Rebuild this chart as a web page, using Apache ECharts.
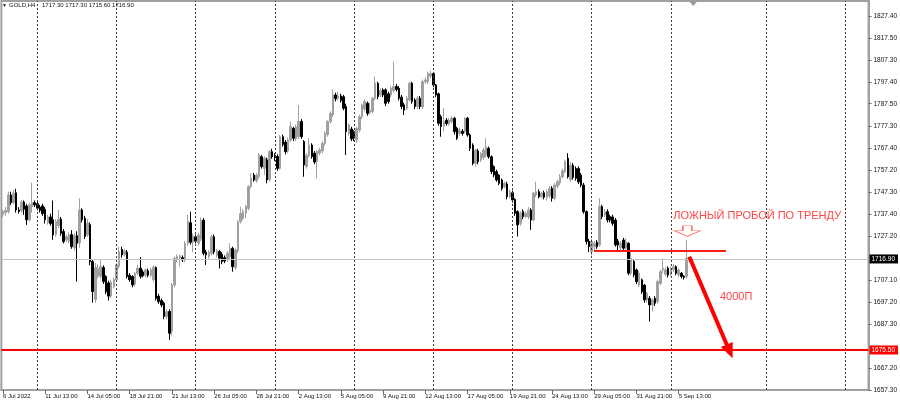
<!DOCTYPE html>
<html><head><meta charset="utf-8">
<script src="https://cdn.jsdelivr.net/npm/echarts@6/dist/echarts.min.js"></script>
<style>html,body{margin:0;padding:0;background:#fff}#c{width:900px;height:407px}</style>
</head><body><div id="c"></div>
<script>
const symbolName = 'GOLD,H4';

const opens = [
1737.0,1738.0,1738.5,1746.0,1742.5,1747.0,1739.2,1738.9,1742.8,1741.0,
1734.7,1740.6,1742.5,1742.0,1740.5,1741.0,1739.5,1733.5,1736.0,1734.7,
1728.0,1732.0,1735.0,1729.4,1725.5,1725.0,1728.0,1722.0,1727.5,1724.2,
1739.2,1735.4,1727.8,1732.5,1715.7,1698.5,1709.0,1709.0,1713.0,1708.9,
1706.0,1700.0,1704.3,1707.4,1713.5,1721.3,1719.0,1720.0,1709.5,1708.9,
1705.5,1710.4,1712.7,1711.0,1709.5,1711.5,1709.5,1707.5,1713.0,1700.0,
1698.0,1696.8,1690.6,1693.0,1684.0,1705.0,1716.5,1717.5,1717.5,1716.5,
1724.0,1733.4,1724.5,1727.0,1724.0,1726.0,1734.5,1720.0,1718.0,1719.5,
1727.0,1718.5,1720.3,1719.0,1717.5,1716.5,1718.0,1721.7,1713.0,1720.5,
1733.9,1735.3,1737.7,1739.9,1749.8,1755.0,1752.5,1754.3,1763.4,1758.1,
1762.0,1753.0,1765.7,1764.0,1763.5,1758.1,1772.5,1770.0,1766.0,1771.0,
1776.3,1771.5,1772.5,1779.4,1770.3,1759.0,1764.0,1768.7,1765.0,1761.2,
1765.0,1766.0,1769.5,1773.5,1779.4,1782.4,1791.5,1790.0,1791.0,1790.7,
1786.2,1774.0,1776.0,1774.8,1771.0,1775.5,1781.6,1785.0,1787.7,1783.5,
1784.0,1790.0,1796.8,1791.5,1793.8,1793.8,1792.0,1791.5,1793.5,1795.3,
1794.5,1790.5,1787.0,1785.4,1789.2,1796.8,1789.2,1786.2,1790.0,1786.0,
1797.5,1797.5,1800.0,1801.3,1796.0,1792.0,1781.6,1777.5,1780.0,1778.5,
1779.4,1780.9,1776.3,1774.0,1775.0,1774.8,1780.9,1773.3,1768.7,1760.4,
1766.0,1762.0,1763.0,1764.2,1767.2,1763.4,1758.9,1756.6,1755.0,1752.8,
1749.8,1751.0,1745.2,1747.0,1744.0,1738.5,1733.1,1738.5,1736.2,1736.0,
1739.2,1734.6,1746.0,1747.5,1745.2,1747.0,1745.0,1745.5,1749.0,1744.5,
1750.0,1751.5,1754.3,1756.6,1762.7,1753.0,1759.5,1758.0,1758.0,1755.0,
1750.5,1738.4,1725.0,1720.2,1722.5,1724.5,1723.3,1740.7,1737.0,1738.4,
1736.2,1736.0,1734.6,1725.0,1722.0,1725.5,1721.8,1724.0,1710.4,1715.7,
1711.9,1705.0,1707.4,1705.0,1698.3,1699.0,1696.0,1699.0,1697.5,1705.8,
1711.9,1710.0,1712.7,1710.0,1712.0,1713.4,1709.6,1710.4,1709.0,1709.0,
1717.3
];
const closes = [
1738.4,1739.0,1746.0,1742.5,1746.8,1739.2,1738.5,1742.8,1739.5,1734.7,
1741.5,1742.5,1741.5,1740.0,1739.0,1737.5,1734.7,1736.0,1733.0,1727.8,
1733.9,1735.0,1728.6,1724.8,1727.0,1727.8,1722.5,1727.5,1724.0,1739.2,
1734.7,1727.1,1733.2,1715.7,1702.1,1713.0,1712.5,1713.5,1706.6,1702.0,
1700.0,1706.4,1707.5,1714.2,1720.3,1718.7,1720.5,1708.9,1707.4,1705.1,
1710.4,1712.7,1709.0,1709.3,1711.9,1709.5,1712.0,1713.1,1699.0,1697.5,
1696.0,1690.7,1693.0,1683.1,1705.1,1717.2,1718.0,1718.3,1716.5,1724.0,
1733.9,1724.5,1727.0,1725.0,1727.8,1734.5,1719.5,1718.8,1720.0,1727.0,
1720.2,1720.5,1717.2,1715.7,1716.0,1719.5,1721.7,1713.4,1721.0,1733.9,
1737.6,1738.4,1740.7,1749.8,1753.6,1752.8,1755.0,1764.2,1758.9,1762.7,
1752.8,1765.7,1763.4,1763.0,1758.1,1772.5,1769.0,1765.7,1771.0,1777.1,
1771.8,1777.0,1779.4,1772.5,1759.6,1764.0,1768.7,1763.4,1761.0,1765.7,
1766.5,1769.5,1774.0,1779.4,1783.1,1791.5,1789.8,1791.0,1789.0,1785.4,
1774.8,1777.8,1771.5,1771.8,1776.3,1781.6,1786.9,1788.5,1783.1,1784.5,
1790.0,1796.8,1790.7,1793.5,1791.5,1787.7,1788.5,1794.5,1795.3,1794.0,
1790.0,1786.2,1784.6,1790.0,1796.8,1788.5,1786.2,1790.0,1786.2,1797.5,
1798.3,1801.3,1801.3,1796.0,1791.5,1778.6,1777.1,1779.4,1778.5,1780.0,
1780.9,1774.8,1771.8,1775.5,1774.0,1780.9,1773.3,1767.2,1760.4,1766.5,
1761.2,1764.8,1766.5,1767.9,1763.4,1756.6,1755.1,1752.8,1751.3,1749.0,
1751.3,1745.2,1747.5,1743.7,1737.7,1732.4,1737.7,1736.2,1737.7,1739.2,
1734.6,1746.8,1747.5,1745.2,1746.8,1745.0,1747.5,1749.0,1744.5,1750.5,
1752.0,1754.3,1757.0,1761.2,1754.3,1759.5,1754.0,1753.6,1752.0,1750.5,
1738.4,1724.8,1722.5,1724.8,1724.0,1722.5,1740.7,1736.2,1738.4,1734.6,
1734.6,1733.1,1723.3,1723.3,1724.0,1721.8,1724.8,1710.4,1717.2,1709.6,
1706.6,1710.4,1702.0,1698.3,1701.3,1696.0,1698.3,1696.8,1706.6,1711.1,
1712.7,1712.0,1709.6,1712.7,1713.4,1710.4,1711.9,1708.9,1708.5,1717.2,
1716.9
];
const lows = [
1735.8,1736.5,1737.5,1741.5,1741.8,1738.0,1737.5,1738.0,1737.0,1732.4,
1734.0,1738.0,1740.5,1739.0,1738.0,1736.5,1733.0,1732.5,1732.0,1725.6,
1727.0,1731.0,1727.5,1724.0,1724.5,1724.0,1721.5,1720.5,1706.6,1722.0,
1733.5,1726.0,1727.0,1714.0,1697.0,1697.0,1708.0,1708.0,1705.5,1701.0,
1698.0,1699.0,1703.5,1706.5,1712.5,1717.5,1718.0,1708.0,1706.5,1704.0,
1704.5,1709.5,1708.0,1708.5,1708.5,1708.5,1708.5,1706.5,1698.0,1696.5,
1695.0,1689.5,1689.5,1680.1,1682.0,1704.0,1715.5,1713.5,1715.5,1715.5,
1723.0,1723.5,1720.0,1724.0,1723.0,1725.0,1718.5,1714.2,1717.0,1718.5,
1719.0,1717.5,1712.6,1714.5,1715.0,1715.5,1717.0,1711.1,1712.0,1719.5,
1733.0,1734.5,1735.5,1739.0,1749.0,1752.0,1751.5,1753.5,1758.0,1755.0,
1751.3,1752.0,1762.5,1761.5,1757.0,1757.5,1768.0,1764.5,1765.0,1770.0,
1770.5,1770.5,1771.5,1771.5,1754.3,1758.0,1763.0,1762.5,1760.0,1753.6,
1764.0,1765.0,1768.5,1772.5,1778.5,1781.5,1788.5,1789.0,1788.0,1784.5,
1764.2,1773.0,1770.5,1770.5,1769.5,1774.5,1780.5,1784.0,1782.0,1782.5,
1783.0,1789.0,1789.5,1790.5,1790.5,1786.5,1787.5,1790.5,1792.5,1793.0,
1789.0,1785.0,1782.4,1784.5,1788.5,1787.5,1785.0,1785.0,1785.0,1785.0,
1796.5,1796.5,1799.0,1795.0,1790.5,1777.5,1772.5,1775.0,1777.5,1777.5,
1778.5,1773.5,1771.0,1773.0,1773.0,1774.0,1772.5,1766.0,1759.5,1758.9,
1760.0,1761.0,1762.0,1763.0,1762.5,1755.5,1754.0,1752.0,1750.5,1748.0,
1749.0,1744.0,1744.5,1742.5,1736.5,1727.1,1732.0,1735.0,1735.5,1735.0,
1730.1,1734.0,1745.0,1744.5,1744.5,1744.0,1743.5,1744.5,1743.0,1743.5,
1749.0,1750.5,1753.5,1756.0,1753.5,1752.0,1753.0,1752.5,1751.0,1749.5,
1737.5,1723.5,1720.0,1718.5,1721.0,1721.5,1722.5,1735.0,1736.0,1733.5,
1733.5,1732.0,1722.5,1721.0,1721.0,1721.0,1720.5,1709.5,1709.5,1708.5,
1705.5,1704.0,1701.0,1697.0,1697.0,1688.4,1693.0,1695.5,1696.5,1705.0,
1710.5,1709.0,1708.5,1709.0,1711.0,1709.5,1708.5,1708.0,1707.5,1708.0,
1715.6
];
const highs = [
1739.5,1740.5,1747.5,1747.5,1748.3,1748.8,1740.5,1743.6,1743.5,1742.0,
1742.5,1751.6,1743.5,1743.0,1741.5,1742.0,1740.5,1737.0,1737.5,1743.5,
1735.0,1739.2,1736.0,1730.5,1728.0,1729.0,1730.0,1728.5,1729.5,1744.5,
1740.0,1736.5,1735.0,1733.5,1716.5,1715.0,1714.5,1716.5,1714.0,1709.5,
1707.0,1707.5,1708.5,1715.0,1722.5,1722.5,1721.5,1721.0,1710.5,1709.5,
1711.0,1714.2,1717.7,1712.0,1712.5,1712.5,1713.0,1714.0,1713.5,1701.0,
1699.0,1697.5,1694.0,1694.0,1706.0,1718.0,1719.0,1719.0,1718.5,1725.0,
1736.9,1738.4,1728.5,1728.0,1729.0,1735.8,1735.5,1721.0,1721.0,1727.8,
1728.0,1721.5,1721.0,1720.0,1718.5,1720.5,1724.0,1722.5,1722.0,1734.5,
1740.7,1739.5,1741.5,1750.5,1755.9,1756.0,1756.0,1765.0,1764.2,1763.5,
1763.0,1766.5,1767.0,1765.0,1764.5,1773.3,1773.5,1771.0,1772.0,1779.4,
1777.0,1778.0,1786.9,1780.5,1771.0,1765.0,1771.8,1769.5,1766.0,1766.5,
1767.5,1770.5,1775.0,1780.0,1784.0,1794.0,1792.5,1793.0,1792.0,1791.5,
1787.5,1778.5,1777.0,1775.5,1777.0,1782.5,1787.5,1789.5,1788.5,1788.0,
1790.5,1799.8,1797.5,1794.5,1794.5,1794.5,1793.0,1795.5,1806.6,1796.5,
1795.5,1791.5,1788.0,1791.0,1797.5,1797.5,1790.0,1791.0,1791.0,1798.5,
1799.5,1802.0,1802.5,1802.0,1796.5,1792.5,1782.5,1785.5,1781.0,1781.0,
1782.0,1781.5,1777.0,1776.5,1776.0,1781.3,1781.5,1774.0,1769.5,1767.0,
1767.0,1765.5,1767.5,1771.8,1768.0,1764.0,1759.5,1757.5,1755.5,1753.5,
1752.0,1752.0,1748.5,1748.0,1744.5,1739.0,1738.5,1739.5,1738.5,1740.5,
1740.0,1747.5,1752.0,1748.5,1747.5,1748.0,1748.5,1750.0,1750.0,1751.5,
1753.0,1755.5,1758.0,1762.0,1765.0,1761.0,1760.5,1759.0,1759.0,1756.0,
1751.5,1739.0,1726.0,1726.0,1725.0,1725.5,1744.5,1741.5,1739.5,1739.5,
1737.0,1737.0,1735.5,1726.0,1725.0,1726.5,1726.3,1724.5,1720.3,1716.5,
1712.5,1711.5,1708.0,1705.5,1702.0,1700.0,1699.0,1700.0,1707.5,1712.0,
1717.2,1713.0,1713.5,1713.5,1714.5,1714.0,1712.5,1711.0,1709.5,1725.5,
1717.3
];

// time axis tick labels (bar index -> text)
const timeTickBars = [0,16,32,48,64,80,96,112,128,144,160,176,192,208,224,240,256];
const timeTickLabels = ['6 Jul 2022','11 Jul 13:00','14 Jul 05:00','18 Jul 21:00','21 Jul 13:00',
  '26 Jul 05:00','28 Jul 21:00','2 Aug 13:00','5 Aug 05:00','9 Aug 21:00','12 Aug 13:00',
  '17 Aug 05:00','19 Aug 21:00','24 Aug 13:00','29 Aug 05:00','31 Aug 21:00','5 Sep 13:00'];
// price axis tick labels
const priceTicks = [1657.3,1667.2,1687.3,1697.2,1707.1,1727.2,1737.4,1747.3,1757.2,1767.4,
  1777.3,1787.5,1797.4,1807.3,1817.5,1827.4];
// weekly separators (bar index)
const weekGridBars = [13,43,73,103,133,163,193,223,253,289,319];

const currentPrice = 1716.90;
const targetLevel = 1675.50;
const breakoutLevel = 1720.5;
const breakoutSpan = [223.9, 273.9];
const arrowStart = [260.0, 1717.9];
const arrowEnd = [275.3, 1674.85];
const noteText = 'ЛОЖНЫЙ ПРОБОЙ ПО ТРЕНДУ';
const notePos = [253.9, 1736.34];
const pointsText = '4000П';
const pointsPos = [271.6, 1699.46];
const hintArrowPos = [259.26, 1729.6];

const FONT = '"Liberation Sans", Arial, sans-serif';
const last = opens.length - 1;
const candleData = opens.map((o, i) => [i, o, closes[i], lows[i], highs[i]]);

const chart = echarts.init(document.getElementById('c'), null, {renderer: 'canvas'});
chart.setOption({
  animation: false,
  backgroundColor: '#ffffff',
  grid: {left: -2, right: 26, top: 1, bottom: 17, show: true, borderColor: '#a0a0a0', borderWidth: 2, backgroundColor: '#ffffff'},
  xAxis: {
    type: 'value', min: -0.61, max: 327.89,
    axisLine: {show: true, onZero: false, lineStyle: {color: '#a0a0a0', width: 2}},
    axisTick: {show: true, customValues: timeTickBars, length: 4, lineStyle: {color: '#666', width: 1}},
    axisLabel: {
      show: true, customValues: timeTickBars, align: 'left', margin: 3,
      fontSize: 6, fontFamily: FONT, color: '#111',
      formatter: v => { const k = timeTickBars.indexOf(Math.round(v)); return k >= 0 ? timeTickLabels[k] : ''; }
    },
    splitLine: {show: false}
  },
  yAxis: {
    type: 'value', position: 'right', min: 1657.3, max: 1834.22, scale: true,
    axisLine: {show: true, onZero: false, lineStyle: {color: '#a0a0a0', width: 2}},
    axisTick: {show: true, customValues: priceTicks, length: 3, lineStyle: {color: '#666', width: 1}},
    axisLabel: {show: true, customValues: priceTicks, margin: 5, fontSize: 6.5, fontFamily: FONT, color: '#111',
      formatter: v => v.toFixed(2)},
    splitLine: {show: false}
  },
  graphic: [
    {type: 'text', left: 2, top: 3, style: {text: '▼', fontSize: 5, fill: '#111', fontFamily: FONT}},
    {type: 'text', left: 9, top: 2, style: {text: symbolName, fontSize: 6, fill: '#111', fontFamily: FONT}},
    {type: 'text', left: 42, top: 2, style: {
      text: [opens[last], highs[last], lows[last], closes[last]].map(v => v.toFixed(2)).join(' '),
      fontSize: 6, fill: '#111', fontFamily: FONT}}
  ],
  series: [
    {
      type: 'line', data: [], z: 1, silent: true,
      markLine: {
        silent: true, symbol: 'none', animation: false,
        label: {show: false},
        lineStyle: {color: '#3a3a3a', type: [2, 2], width: 1},
        data: weekGridBars.map(b => ({xAxis: b})).concat([
          {yAxis: currentPrice, lineStyle: {color: '#c4c4c4', type: 'solid', width: 1},
           label: {show: true, position: 'end', distance: 1, formatter: currentPrice.toFixed(2),
             backgroundColor: '#000', color: '#fff', fontSize: 6.5, fontFamily: FONT, padding: [1, 3, 1, 2]}}
        ])
      }
    },
    {
      type: 'candlestick', z: 2, silent: true,
      data: candleData,
      encode: {x: 0, y: [1, 2, 3, 4]},
      barWidth: 2,
      itemStyle: {color: '#a0a0a0', borderColor: '#a0a0a0', color0: '#000000', borderColor0: '#000000', borderWidth: 1}
    },
    {
      type: 'line', data: [], z: 5, silent: true,
      markLine: {
        silent: true, symbol: 'none', animation: false,
        label: {show: false},
        data: [
          {yAxis: targetLevel, lineStyle: {color: '#ff0000', type: 'solid', width: 2},
           label: {show: true, position: 'end', distance: 1, formatter: targetLevel.toFixed(2),
             backgroundColor: '#ff0000', color: '#fff', fontSize: 6.5, fontFamily: FONT, padding: [1, 3, 1, 2]}},
          [{coord: [breakoutSpan[0], breakoutLevel]}, {coord: [breakoutSpan[1], breakoutLevel]}],
          [{coord: arrowStart, symbol: 'none'}, {coord: arrowEnd, symbol: 'triangle', symbolSize: [13, 15]}]
        ].map((d, i) => {
          if (i === 1) return d.map(p => Object.assign(p, {lineStyle: {color: '#ff1a1a', width: 2, type: 'solid'}}));
          if (i === 2) return d.map(p => Object.assign(p, {lineStyle: {color: '#ff0000', width: 4, type: 'solid'}, itemStyle: {color: '#ff0000'}}));
          return d;
        })
      },
      markPoint: {
        silent: true, animation: false,
        data: [
          {coord: notePos, symbol: 'circle', symbolSize: 0,
           label: {show: true, position: 'right', distance: 0, formatter: noteText, color: '#ff4646', fontSize: 11, fontFamily: FONT}},
          {coord: pointsPos, symbol: 'circle', symbolSize: 0,
           label: {show: true, position: 'right', distance: 0, formatter: pointsText, color: '#ff4646', fontSize: 11, fontFamily: FONT}},
          {coord: hintArrowPos, symbol: 'path://M8.5,0 L17.5,0 L17.5,5 L26,5 L13,10.5 L0,5 L8.5,5 Z', symbolSize: [26, 10.5],
           itemStyle: {color: 'rgba(255,255,255,0)', borderColor: '#ff6a6a', borderWidth: 1}, label: {show: false}},
          {coord: [261.5, 1833.0], symbol: 'path://M0,0 L10,0 L5,6 Z', symbolSize: [8, 5],
           itemStyle: {color: '#9a9a9a'}, label: {show: false}}
        ]
      }
    }
  ]
});
</script>
</body></html>
